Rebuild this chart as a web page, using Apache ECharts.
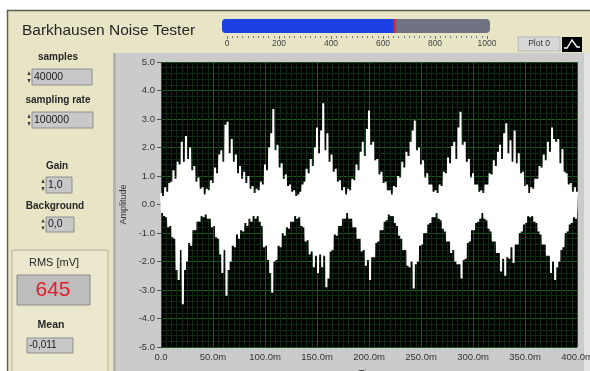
<!DOCTYPE html>
<html>
<head>
<meta charset="utf-8">
<script src="https://cdn.jsdelivr.net/npm/echarts@6/dist/echarts.min.js"></script>
<style>
  html, body { margin: 0; padding: 0; background: #ffffff; }
  #main { width: 590px; height: 371px; }
</style>
</head>
<body>
<div id="main"></div>
<script>
// Acquired Barkhausen noise, decimated to one sample per millisecond (0 .. 400 ms).
// Even milliseconds hold the positive excursion, odd milliseconds the negative one.
const evenMsAmplitude = [
  0.4, 0.3, 0.6, 0.45, 0.75, 0.8, 1.2, 0.9, 1.5, 1.4,
  2.2, 1.5, 2.4, 1.6, 2.0, 1.2, 1.35, 0.8, 0.95, 0.55,
  0.6, 0.35, 0.55, 0.5, 0.85, 0.75, 1.3, 1.1, 1.75, 1.9,
  1.5, 2.8, 2.9, 1.8, 2.3, 1.5, 1.75, 1.1, 1.35, 0.9,
  1.15, 0.75, 1.0, 0.55, 0.65, 0.4, 0.55, 0.5, 0.8, 0.7,
  1.4, 1.2, 2.0, 2.5, 3.35, 1.9, 2.1, 1.3, 1.45, 0.9,
  1.05, 0.65, 0.7, 0.45, 0.5, 0.3, 0.35, 0.45, 0.7, 0.8,
  1.25, 1.1, 1.6, 1.35, 2.0, 2.7, 1.8, 2.6, 3.55, 1.9,
  2.5, 1.5, 1.75, 1.15, 1.25, 0.8, 0.85, 0.5, 0.6, 0.35,
  0.55, 0.5, 0.9, 0.85, 1.4, 1.2, 1.85, 2.2, 1.7, 2.65,
  3.3, 2.1, 2.2, 1.55, 1.6, 1.05, 1.15, 0.75, 0.8, 0.5,
  0.5, 0.35, 0.65, 0.6, 1.0, 0.95, 1.5, 1.3, 1.85, 1.7,
  2.2, 2.6, 2.95, 1.9, 2.0, 1.4, 1.55, 0.95, 1.1, 0.7,
  0.7, 0.45, 0.5, 0.4, 0.7, 0.65, 1.15, 1.1, 1.65, 1.45,
  2.05, 2.2, 1.6, 2.7, 3.25, 2.1, 2.2, 1.5, 1.6, 0.95,
  1.1, 0.7, 0.7, 0.45, 0.5, 0.4, 0.7, 0.7, 1.1, 1.05,
  1.55, 1.35, 1.85, 2.1, 1.6, 2.5, 2.85, 1.8, 2.25, 1.5,
  2.6, 1.45, 1.8, 1.1, 1.15, 0.65, 0.7, 0.4, 0.6, 0.55,
  0.9, 0.9, 1.35, 1.3, 1.75, 1.55, 2.2, 1.85, 2.7, 2.3,
  2.2, 2.3, 1.45, 1.95, 1.15, 1.1, 0.7, 0.75, 0.45, 0.6,
  0.45
];
const oddMsAmplitude = [
  -0.3, -0.4, -0.45, -0.8, -0.75, -1.15, -1.2, -2.3, -2.65, -1.6,
  -3.5, -2.3, -2.0, -1.35, -1.45, -0.9, -0.9, -0.6, -0.6, -0.4,
  -0.45, -0.35, -0.5, -0.5, -0.8, -0.75, -1.15, -1.2, -1.75, -2.4,
  -1.6, -3.2, -2.3, -2.0, -1.45, -1.5, -1.05, -1.2, -0.9, -0.95,
  -0.65, -0.75, -0.5, -0.6, -0.4, -0.5, -0.4, -0.6, -0.75, -1.5,
  -1.45, -1.95, -2.4, -3.1, -2.0, -1.95, -1.45, -1.5, -1.0, -1.1,
  -0.8, -0.85, -0.6, -0.6, -0.4, -0.5, -0.45, -0.75, -0.8, -1.3,
  -1.25, -1.75, -1.65, -2.2, -1.8, -2.4, -1.75, -2.2, -1.8, -2.9,
  -2.6, -1.65, -1.6, -1.05, -1.1, -0.75, -0.75, -0.5, -0.5, -0.3,
  -0.5, -0.5, -0.8, -0.8, -1.2, -1.2, -1.65, -1.6, -2.15, -1.95,
  -2.65, -1.85, -1.85, -1.35, -1.3, -0.9, -0.9, -0.6, -0.55, -0.35,
  -0.4, -0.4, -0.65, -0.75, -1.1, -1.2, -1.6, -1.6, -2.15, -2.2,
  -2.0, -2.95, -2.1, -2.0, -1.45, -1.4, -1.0, -1.0, -0.7, -0.65,
  -0.45, -0.45, -0.3, -0.5, -0.55, -0.85, -0.95, -1.3, -1.3, -1.7,
  -1.6, -2.0, -2.1, -2.1, -2.6, -1.95, -1.9, -1.35, -1.3, -0.9,
  -0.9, -0.65, -0.6, -0.5, -0.3, -0.5, -0.55, -0.85, -0.95, -1.3,
  -1.3, -1.7, -1.7, -2.35, -1.9, -2.5, -1.85, -1.9, -1.5, -2.05,
  -1.4, -1.4, -1.0, -0.95, -0.7, -0.65, -0.4, -0.45, -0.4, -0.6,
  -0.65, -0.95, -1.05, -1.4, -1.4, -1.8, -1.8, -2.4, -2.0, -2.65,
  -2.2, -2.0, -1.6, -1.5, -1.0, -0.95, -0.7, -0.65, -0.45, -0.5
];

// Front panel readings
const rmsMilliVolts = 645;
const meanReading = '-0,011';
const samplesSetting = '40000';
const samplingRateSetting = '100000';
const gainSetting = '1,0';
const backgroundSetting = '0,0';

// Axis ranges
const timeRangeMs = [0, 400];
const amplitudeRange = [-5, 5];
const meterRange = [0, 1000];

// Build the time/amplitude pairs for the waveform graph
const waveform = [];
for (let t = timeRangeMs[0]; t <= timeRangeMs[1]; t++) {
  const v = (t % 2 === 0) ? evenMsAmplitude[t / 2] : oddMsAmplitude[(t - 1) / 2];
  waveform.push([t, v]);
}

const FONT = '"Liberation Sans", Arial, sans-serif';
const PANEL = '#e8e5c7';
const INK = '#262626';

function label(x, y, text, size, weight, align) {
  return {
    type: 'text', z: 20, x: x, y: y,
    style: { text: text, fill: INK, font: (weight || 'normal') + ' ' + size + 'px ' + FONT,
             textAlign: align || 'center', textVerticalAlign: 'middle' }
  };
}

// LabVIEW-style numeric control: increment arrows + grey display
function numeric(x, y, w, h, text) {
  const ax = x - 3;
  return [
    { type: 'polygon', z: 20, shape: { points: [[ax - 1.5, y + h / 2 - 2], [ax + 1.5, y + h / 2 - 2], [ax, y + 2]] }, style: { fill: '#333' } },
    { type: 'polygon', z: 20, shape: { points: [[ax - 1.5, y + h / 2 + 2], [ax + 1.5, y + h / 2 + 2], [ax, y + h - 2]] }, style: { fill: '#333' } },
    { type: 'rect', z: 20, shape: { x: x, y: y, width: w, height: h }, style: { fill: '#c8c8c8', stroke: '#8e8e8e', lineWidth: 1 } },
    { type: 'text', z: 21, x: x + 2, y: y + h / 2,
      style: { text: text, fill: '#1a1a1a', font: 'normal 10.5px ' + FONT, textAlign: 'left', textVerticalAlign: 'middle' } }
  ];
}

const graphics = [
  // panel background and frame
  { type: 'rect', z: -10, shape: { x: 7, y: 10, width: 583, height: 361 }, style: { fill: PANEL } },
  { type: 'line', z: -9, shape: { x1: 7, y1: 10.5, x2: 590, y2: 10.5 }, style: { stroke: '#5e5e52', lineWidth: 1.5 } },
  { type: 'line', z: -9, shape: { x1: 7.5, y1: 10, x2: 7.5, y2: 371 }, style: { stroke: '#5e5e52', lineWidth: 1.5 } },
  // graph frame
  { type: 'rect', z: -9, shape: { x: 113, y: 53, width: 471, height: 318 }, style: { fill: '#cbcbcb' } },
  { type: 'rect', z: -9, shape: { x: 113, y: 53, width: 3, height: 318 }, style: { fill: '#b4b4b0' } },
  { type: 'rect', z: -9, shape: { x: 584, y: 53, width: 6, height: 318 }, style: { fill: '#e3e3e3' } },
  // RMS / Mean indicator cluster
  { type: 'rect', z: -8, shape: { x: 12, y: 250, width: 96, height: 125 }, style: { fill: '#ebe8cd', stroke: '#b7b39a', lineWidth: 1 } },
  // meter track
  { type: 'rect', z: -1, shape: { x: 222, y: 19, width: 268, height: 14, r: 4 }, style: { fill: '#6f7384' } },
  { type: 'rect', z: -1, shape: { x: 222, y: 19, width: 9, height: 14, r: [4, 0, 0, 4] }, style: { fill: '#1b3fe3' } },
  // title
  { type: 'text', z: 20, x: 22, y: 31, style: { text: 'Barkhausen Noise Tester', fill: INK, font: 'normal 15.5px ' + FONT, textAlign: 'left', textVerticalAlign: 'middle' } },
  // plot legend
  { type: 'rect', z: 20, shape: { x: 518, y: 37, width: 42, height: 14 }, style: { fill: '#d8d8d8', stroke: '#b5b5b5', lineWidth: 1 } },
  { type: 'text', z: 21, x: 539, y: 44, style: { text: 'Plot 0', fill: '#333', font: 'normal 8.5px ' + FONT, textAlign: 'center', textVerticalAlign: 'middle' } },
  { type: 'rect', z: 20, shape: { x: 562, y: 37, width: 20, height: 15 }, style: { fill: '#000' } },
  { type: 'polyline', z: 21, shape: { points: [[564, 48], [567, 48], [572, 40], [577, 47], [580, 47]] }, style: { stroke: '#fff', lineWidth: 1.3, fill: null } },
  // control labels
  label(58, 57, 'samples', 10, 'bold'),
  label(58, 100, 'sampling rate', 10, 'bold'),
  label(57, 166, 'Gain', 10, 'bold'),
  label(55, 206, 'Background', 10, 'bold'),
  label(54, 263, 'RMS [mV]', 11, 'normal'),
  label(51, 325, 'Mean', 10.5, 'bold'),
  // RMS display
  { type: 'rect', z: 20, shape: { x: 17, y: 275, width: 73, height: 30 }, style: { fill: '#bdbdbd', stroke: '#8a8a8a', lineWidth: 1 } },
  { type: 'text', z: 21, x: 53, y: 290, style: { text: String(rmsMilliVolts), fill: '#e31e2b', font: 'normal 21px ' + FONT, textAlign: 'center', textVerticalAlign: 'middle' } },
  // Mean display
  { type: 'rect', z: 20, shape: { x: 27, y: 338, width: 46, height: 15 }, style: { fill: '#c8c8c8', stroke: '#8e8e8e', lineWidth: 1 } },
  { type: 'text', z: 21, x: 29, y: 345.5, style: { text: meanReading, fill: '#1a1a1a', font: 'normal 10px ' + FONT, textAlign: 'left', textVerticalAlign: 'middle' } }
]
  .concat(numeric(32, 69, 60, 16, samplesSetting))
  .concat(numeric(32, 112, 61, 16, samplingRateSetting))
  .concat(numeric(46, 177, 26, 16, gainSetting))
  .concat(numeric(46, 217, 28, 15, backgroundSetting));

const chart = echarts.init(document.getElementById('main'), null, { renderer: 'canvas' });

chart.setOption({
  backgroundColor: '#ffffff',
  animation: false,
  textStyle: { fontFamily: FONT },
  graphic: { elements: graphics },
  grid: [
    { left: 161, top: 62, width: 416, height: 285, show: true, backgroundColor: '#000000', borderWidth: 0, z: 0,
      containLabel: false, outerBoundsMode: 'none' },
    { left: 227, top: 19, width: 260, height: 14, show: false, containLabel: false, outerBoundsMode: 'none' }
  ],
  xAxis: [
    {
      gridIndex: 0, type: 'value', min: timeRangeMs[0], max: timeRangeMs[1], interval: 50,
      name: 'Time', nameLocation: 'middle', nameGap: 21,
      nameTextStyle: { fontSize: 9.5, color: '#333' },
      axisLine: { show: false },
      axisTick: { show: true, length: 4, lineStyle: { color: '#555' } },
      axisLabel: { fontSize: 9.5, color: '#333', margin: 5,
        formatter: v => v === 0 ? '0.0' : v.toFixed(1) + 'm' },
      splitLine: { show: true, lineStyle: { color: '#1c5a1c', width: 1 } },
      minorTick: { show: false, splitNumber: 10 },
      minorSplitLine: { show: true, lineStyle: { color: '#0f2a13', width: 1 } }
    },
    {
      gridIndex: 1, type: 'value', min: meterRange[0], max: meterRange[1], interval: 200,
      position: 'bottom', offset: 3,
      axisLine: { show: false },
      axisTick: { show: true, length: 3, lineStyle: { color: '#6a6a6a' } },
      minorTick: { show: true, splitNumber: 10, length: 2, lineStyle: { color: '#7a7a7a' } },
      axisLabel: { fontSize: 8.5, color: '#444', margin: 3, formatter: v => String(v) },
      splitLine: { show: false }
    }
  ],
  yAxis: [
    {
      gridIndex: 0, type: 'value', min: amplitudeRange[0], max: amplitudeRange[1], interval: 1,
      name: 'Amplitude', nameLocation: 'middle', nameGap: 30,
      nameTextStyle: { fontSize: 9, color: '#333' },
      axisLine: { show: false },
      axisTick: { show: true, length: 4, lineStyle: { color: '#555' } },
      axisLabel: { fontSize: 9.5, color: '#333', margin: 6, formatter: v => v.toFixed(1) },
      splitLine: { show: true, lineStyle: { color: '#1c5a1c', width: 1 } },
      minorTick: { show: false, splitNumber: 5 },
      minorSplitLine: { show: true, lineStyle: { color: '#0f2a13', width: 1 } }
    },
    { gridIndex: 1, type: 'category', data: ['RMS'], show: false }
  ],
  series: [
    {
      name: 'Plot 0', type: 'line', xAxisIndex: 0, yAxisIndex: 0,
      data: waveform, showSymbol: false, symbol: 'none',
      lineStyle: { color: '#ffffff', width: 2 }, z: 3, clip: true
    },
    {
      name: 'RMS meter', type: 'bar', xAxisIndex: 1, yAxisIndex: 1,
      data: [rmsMilliVolts], barWidth: 14,
      itemStyle: { color: '#1b3fe3' }, z: 3,
      markLine: {
        silent: true, symbol: 'none', label: { show: false },
        lineStyle: { color: '#e0202c', width: 2.5, type: 'solid' },
        data: [{ xAxis: rmsMilliVolts }]
      }
    }
  ]
});
</script>
</body>
</html>
